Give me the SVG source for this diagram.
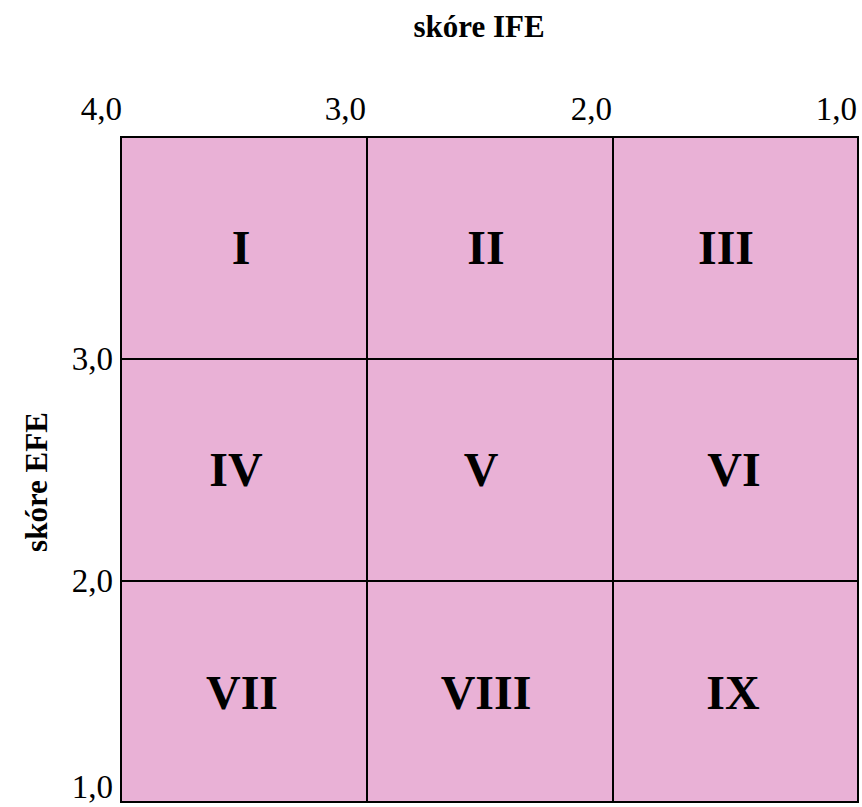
<svg xmlns="http://www.w3.org/2000/svg" width="862" height="807" viewBox="0 0 862 807">
<style>
.cell{fill:#E9B1D6;stroke:none}
.ln{stroke:#000;stroke-width:2;fill:none}
.tick{font-family:"Liberation Serif","Times New Roman",serif;font-size:33px;fill:#000;text-anchor:end}
.ttl{font-family:"Liberation Serif","Times New Roman",serif;font-size:31px;font-weight:bold;fill:#000;text-anchor:middle}
.rn{font-family:"Liberation Serif","Times New Roman",serif;font-size:48px;font-weight:bold;fill:#000;text-anchor:middle}
</style>
<rect width="862" height="807" fill="#fff"/>
<text class="ttl" x="479" y="37">skóre IFE</text>
<text class="ttl" transform="translate(47,482) rotate(-90)">skóre EFE</text>
<g id="x-axis">
<text class="tick" x="122" y="120">4,0</text>
<text class="tick" x="366" y="120">3,0</text>
<text class="tick" x="612" y="120">2,0</text>
<text class="tick" x="857" y="120">1,0</text>
</g>
<g id="y-axis">
<text class="tick" x="113" y="370">3,0</text>
<text class="tick" x="113" y="592">2,0</text>
<text class="tick" x="113" y="798">1,0</text>
</g>
<g id="cell-I"><rect class="cell" x="121" y="137" width="246" height="222"/><text class="rn" x="241" y="264">I</text></g>
<g id="cell-II"><rect class="cell" x="367" y="137" width="246" height="222"/><text class="rn" x="486" y="264">II</text></g>
<g id="cell-III"><rect class="cell" x="613" y="137" width="245" height="222"/><text class="rn" x="726" y="264">III</text></g>
<g id="cell-IV"><rect class="cell" x="121" y="359" width="246" height="222"/><text class="rn" x="236" y="486">IV</text></g>
<g id="cell-V"><rect class="cell" x="367" y="359" width="246" height="222"/><text class="rn" x="481" y="486">V</text></g>
<g id="cell-VI"><rect class="cell" x="613" y="359" width="245" height="222"/><text class="rn" x="734" y="486">VI</text></g>
<g id="cell-VII"><rect class="cell" x="121" y="581" width="246" height="221"/><text class="rn" x="242" y="709">VII</text></g>
<g id="cell-VIII"><rect class="cell" x="367" y="581" width="246" height="221"/><text class="rn" x="486" y="709">VIII</text></g>
<g id="cell-IX"><rect class="cell" x="613" y="581" width="245" height="221"/><text class="rn" x="733" y="709">IX</text></g>
<g id="grid-lines">
<rect class="ln" x="121" y="137" width="737" height="665"/>
<line class="ln" x1="367" y1="137" x2="367" y2="802"/>
<line class="ln" x1="613" y1="137" x2="613" y2="802"/>
<line class="ln" x1="121" y1="359" x2="858" y2="359"/>
<line class="ln" x1="121" y1="581" x2="858" y2="581"/>
</g>
</svg>
